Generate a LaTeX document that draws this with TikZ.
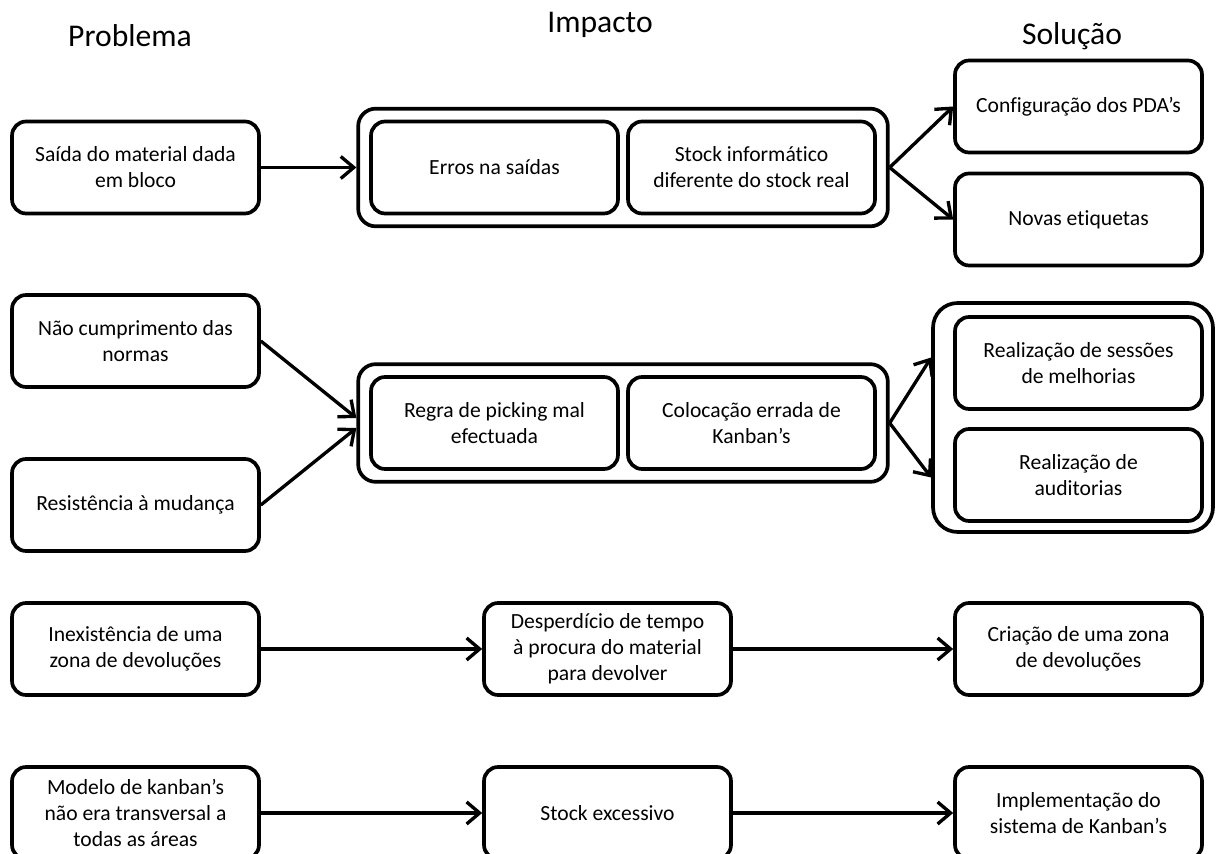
\documentclass[tikz,border=0pt]{standalone}
\usepackage{fontspec}
\setmainfont{Carlito}[Ligatures=NoCommon]
\usetikzlibrary{arrows.meta,positioning,fit,calc}

\tikzset{
  box/.style={draw, line width=2.1pt, rounded corners=8pt, minimum width=4.94cm,
    minimum height=1.84cm, align=center, inner sep=2pt,
    font=\fontsize{12.3}{14.8}\selectfont},
  group/.style={draw, line width=2.1pt, rounded corners=10pt, inner sep=0.22cm},
  head/.style={font=\fontsize{18}{22}\selectfont},
  link/.style={line width=1.9pt, -{Straight Barb[length=2.6mm,width=4.4mm]}}
}

\begin{document}
\begin{tikzpicture}[x=0.02cm, y=-0.02cm]
  \useasboundingbox (0,0) rectangle (1217,854);

  % Column titles
  \node[head] (hprob) at (130,36) {Problema};
  \node[head] (himp) at (600,25) {Impacto};
  \node[head] (hsol) at (1072,36) {Solução};

  % Row 1
  \node[box] (saida) at (135.5,167.5) {Saída do material dada\\em bloco};
  \node[box] (erros) at (494.5,167.5) {Erros na saídas};
  \node[box] (stockinf) at (751.5,167.5) {Stock informático\\diferente do stock real};
  \node[group, fit=(erros)(stockinf)] (imp1) {};
  \node[box] (config) at (1078.5,106.5) {Configuração dos PDA’s};
  \node[box] (etiq) at (1078.5,219.5) {Novas etiquetas};

  \draw[link] (saida) -- (imp1);
  \draw[link] (imp1.east) -- (config.west);
  \draw[link] (imp1.east) -- (etiq.west);

  % Row 2
  \node[box] (normas) at (135.5,341) {Não cumprimento das\\normas};
  \node[box] (resist) at (135.5,505) {Resistência à mudança};
  \node[box] (regra) at (494.5,423) {Regra de picking mal\\efectuada};
  \node[box] (kanban) at (751.5,423) {Colocação errada de\\Kanban’s};
  \node[group, fit=(regra)(kanban)] (imp2) {};
  \node[box] (sessoes) at (1078.5,363) {Realização de sessões\\de melhorias};
  \node[box] (audit) at (1078.5,475) {Realização de\\auditorias};
  \node[group, rounded corners=14pt, inner sep=0pt, minimum width=5.6cm,
    minimum height=4.58cm] (sol2) at (1073,417.5) {};

  \draw[link] (normas.east) -- ([yshift=0.1cm]imp2.west);
  \draw[link] (resist.east) -- ([yshift=-0.1cm]imp2.west);
  \draw[link] (imp2.east) -- ([yshift=1.2cm]sol2.west);
  \draw[link] (imp2.east) -- ([yshift=-1.2cm]sol2.west);

  % Row 3
  \node[box] (inexist) at (135.5,649) {Inexistência de uma\\zona de devoluções};
  \node[box] (desperd) at (607.5,649) {Desperdício de tempo\\à procura do material\\para devolver};
  \node[box] (criacao) at (1078.5,649) {Criação de uma zona\\de devoluções};

  \draw[link] (inexist) -- (desperd);
  \draw[link] (desperd) -- (criacao);

  % Row 4
  \node[box] (modelo) at (135.5,813) {Modelo de kanban’s\\não era transversal a\\todas as áreas};
  \node[box] (stockexc) at (607.5,813) {Stock excessivo};
  \node[box] (implem) at (1078.5,813) {Implementação do\\sistema de Kanban’s};

  \draw[link] (modelo) -- (stockexc);
  \draw[link] (stockexc) -- (implem);
\end{tikzpicture}
\end{document}
